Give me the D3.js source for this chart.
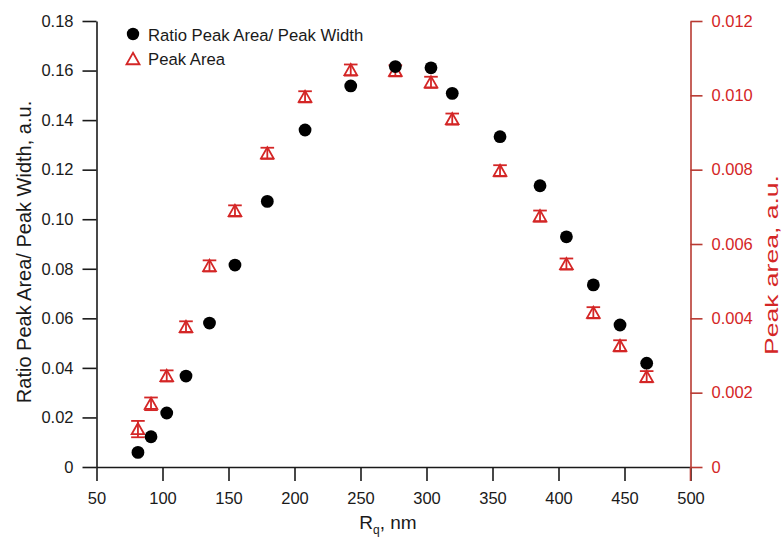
<!DOCTYPE html>
<html>
<head>
<meta charset="utf-8">
<script src="https://cdn.jsdelivr.net/npm/d3@7"></script>
<style>
  html, body { margin: 0; padding: 0; background: #fff; }
  svg { display: block; font-family: "Liberation Sans", Arial, sans-serif; }
</style>
</head>
<body>
<svg id="chart" width="784" height="538"></svg>
<script>
// ---- data ----
const rq = [81.4, 91.3, 103.2, 117.8, 135.6, 154.9, 179.4, 208.0, 242.6, 276.4, 303.4, 319.5, 355.7, 386.0, 406.0, 426.4, 446.6, 466.8];
const ratio = [0.0059, 0.0122, 0.0218, 0.0367, 0.0581, 0.0815, 0.1072, 0.1360, 0.1538, 0.1616, 0.1611, 0.1508, 0.1333, 0.1135, 0.0929, 0.0735, 0.0573, 0.0419];
const peakArea = [0.00102, 0.00170, 0.00245, 0.00377, 0.00541, 0.00689, 0.00844, 0.00996, 0.01068, 0.01066, 0.01035, 0.00936, 0.00797, 0.00675, 0.00546, 0.00415, 0.00326, 0.00243];
const peakAreaErr = [0.00022, 0.00017, 0.00015, 0.00015, 0.00015, 0.00015, 0.00015, 0.00015, 0.00015, 0.00015, 0.00015, 0.00015, 0.00015, 0.00015, 0.00015, 0.00015, 0.00015, 0.00015];
const xTicks = [50, 100, 150, 200, 250, 300, 350, 400, 450, 500];
const yLeftTicks = [0, 0.02, 0.04, 0.06, 0.08, 0.10, 0.12, 0.14, 0.16, 0.18];
const yRightTicks = [0, 0.002, 0.004, 0.006, 0.008, 0.010, 0.012];
const legendLabels = ["Ratio Peak Area/ Peak Width", "Peak Area"];

// ---- layout ----
const svg = d3.select("#chart");
const mLeft = 96.5, mRight = 690.5, mTop = 21, mBottom = 467;
const black = "#1a1a1a", red = "#d42626", axisRed = "#b83a32";
const tickFont = 16.5;

const x = d3.scaleLinear().domain([50, 500]).range([mLeft, mRight]);
const yL = d3.scaleLinear().domain([0, 0.18]).range([mBottom, mTop]);
const yR = d3.scaleLinear().domain([0, 0.012]).range([mBottom, mTop]);

function fmtL(d) { return d === 0 ? "0" : d3.format(".2f")(d); }
function fmtR(d) { return d === 0 ? "0" : d3.format(".3f")(d); }

function styleTicks(g, col) {
  g.selectAll(".tick text").attr("fill", col)
    .style("font-size", tickFont + "px").style("font-family", "Liberation Sans, Arial, sans-serif");
}

// x axis
const gx = svg.append("g").attr("transform", `translate(0,${mBottom})`)
  .call(d3.axisBottom(x).tickValues(xTicks).tickSize(14).tickPadding(11).tickSizeOuter(0));
gx.select(".domain").attr("stroke", black).attr("stroke-width", 1.6);
gx.selectAll(".tick line").attr("stroke", black).attr("stroke-width", 1.6);
styleTicks(gx, black);

// left axis
const gl = svg.append("g").attr("transform", `translate(${mLeft},0)`)
  .call(d3.axisLeft(yL).tickValues(yLeftTicks).tickFormat(fmtL).tickSize(14).tickPadding(9).tickSizeOuter(0));
gl.select(".domain").attr("stroke", black).attr("stroke-width", 1.6);
gl.selectAll(".tick line").attr("stroke", black).attr("stroke-width", 1.6);
styleTicks(gl, black);

// right axis
const gr = svg.append("g").attr("transform", `translate(${mRight},0)`)
  .call(d3.axisRight(yR).tickValues(yRightTicks).tickFormat(fmtR).tickSize(12).tickPadding(9).tickSizeOuter(0));
gr.select(".domain").attr("stroke", axisRed).attr("stroke-width", 1.6);
gr.selectAll(".tick line").attr("stroke", axisRed).attr("stroke-width", 1.6);
styleTicks(gr, red);
svg.append("line").attr("x1", mRight).attr("x2", mRight).attr("y1", mBottom).attr("y2", mBottom + 14)
  .attr("stroke", axisRed).attr("stroke-width", 1.6);

// titles
svg.append("text").attr("transform", `translate(31,252) rotate(-90)`)
  .attr("text-anchor", "middle").attr("fill", black).style("font-size", "20px")
  .text("Ratio Peak Area/ Peak Width, a.u.");
svg.append("text").attr("transform", `translate(778,265) rotate(-90)`)
  .attr("text-anchor", "middle").attr("fill", red).style("font-size", "18.5px")
  .attr("textLength", 180).attr("lengthAdjust", "spacingAndGlyphs")
  .text("Peak area, a.u.");
const xt = svg.append("text").attr("x", 388).attr("y", 529)
  .attr("text-anchor", "middle").attr("fill", black).style("font-size", "19px");
xt.append("tspan").text("R");
xt.append("tspan").attr("dy", 5).style("font-size", "12px").text("q");
xt.append("tspan").attr("dy", -5).text(", nm");

// markers
const triPath = (s) => `M0,${-s}L${s * 1.05},${s * 0.85}L${-s * 1.05},${s * 0.85}Z`;

const pa = svg.append("g").selectAll("g").data(rq.map((d, i) => ({ x: d, y: peakArea[i], e: peakAreaErr[i] })))
  .join("g").attr("transform", d => `translate(${x(d.x)},0)`);
pa.append("line").attr("x1", 0).attr("x2", 0).attr("y1", d => yR(d.y + d.e)).attr("y2", d => yR(d.y - d.e))
  .attr("stroke", red).attr("stroke-width", 1.8);
pa.append("line").attr("x1", -6.8).attr("x2", 6.8).attr("y1", d => yR(d.y + d.e)).attr("y2", d => yR(d.y + d.e))
  .attr("stroke", red).attr("stroke-width", 1.8);
pa.append("line").attr("x1", -6.8).attr("x2", 6.8).attr("y1", d => yR(d.y - d.e)).attr("y2", d => yR(d.y - d.e))
  .attr("stroke", red).attr("stroke-width", 1.8);
pa.append("path").attr("transform", d => `translate(0,${yR(d.y)})`).attr("d", triPath(6))
  .attr("fill", "none").attr("stroke", red).attr("stroke-width", 1.8);

svg.append("g").selectAll("circle").data(rq.map((d, i) => ({ x: d, y: ratio[i] })))
  .join("circle").attr("cx", d => x(d.x)).attr("cy", d => yL(d.y)).attr("r", 6.4).attr("fill", "#000");

// legend
const lg = svg.append("g");
lg.append("circle").attr("cx", 133).attr("cy", 34).attr("r", 6.2).attr("fill", "#000");
lg.append("text").attr("x", 148).attr("y", 41).attr("fill", black).style("font-size", "16.7px").text(legendLabels[0]);
lg.append("path").attr("transform", "translate(133,59)").attr("d", triPath(6.2))
  .attr("fill", "none").attr("stroke", red).attr("stroke-width", 1.8);
lg.append("text").attr("x", 148).attr("y", 65).attr("fill", black).style("font-size", "16.7px").text(legendLabels[1]);
</script>
</body>
</html>
